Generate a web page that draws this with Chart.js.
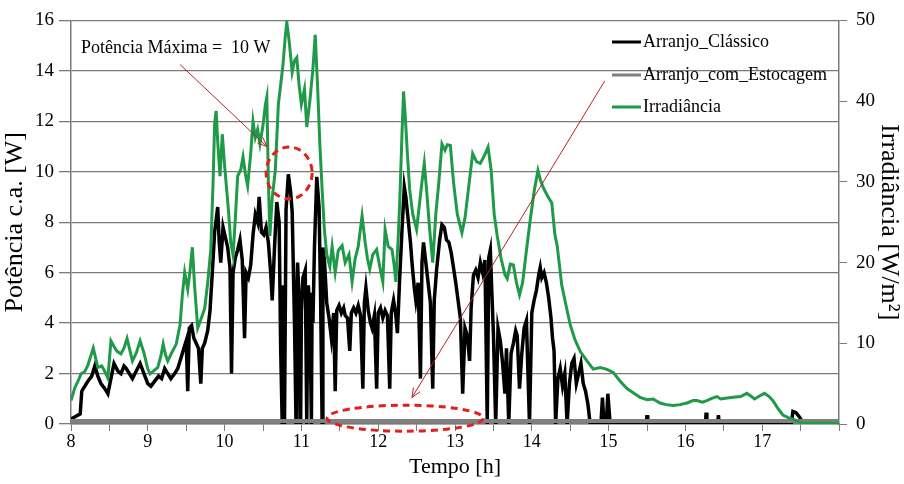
<!DOCTYPE html>
<html>
<head>
<meta charset="utf-8">
<script src="https://cdn.jsdelivr.net/npm/chart.js@4"></script>
<style>
body { margin: 0; background: #fff; }
</style>
</head>
<body>
<canvas id="potencia" width="904" height="484"></canvas>
<script>
// Arranjo_Clássico, potência c.a. [W]
const classicoHoras = [8.00, 8.06, 8.12, 8.14, 8.18, 8.22, 8.27, 8.31, 8.35, 8.39, 8.44, 8.48, 8.52, 8.56, 8.61, 8.65, 8.69, 8.72, 8.76, 8.80, 8.85, 8.90, 8.95, 9.00, 9.04, 9.09, 9.14, 9.18, 9.22, 9.26, 9.30, 9.35, 9.39, 9.43, 9.46, 9.50, 9.52, 9.54, 9.57, 9.60, 9.63, 9.66, 9.69, 9.71, 9.74, 9.78, 9.81, 9.84, 9.87, 9.91, 9.93, 9.95, 9.98, 10.01, 10.04, 10.07, 10.09, 10.11, 10.14, 10.17, 10.20, 10.23, 10.26, 10.28, 10.31, 10.34, 10.37, 10.40, 10.43, 10.45, 10.48, 10.51, 10.54, 10.57, 10.60, 10.62, 10.65, 10.68, 10.71, 10.73, 10.75, 10.76, 10.77, 10.78, 10.80, 10.83, 10.86, 10.88, 10.91, 10.93, 10.94, 10.95, 10.97, 10.99, 11.00, 11.02, 11.05, 11.07, 11.08, 11.09, 11.11, 11.13, 11.14, 11.15, 11.17, 11.20, 11.23, 11.25, 11.27, 11.28, 11.30, 11.33, 11.36, 11.39, 11.42, 11.44, 11.46, 11.49, 11.52, 11.55, 11.57, 11.60, 11.63, 11.65, 11.68, 11.71, 11.74, 11.77, 11.80, 11.82, 11.84, 11.87, 11.90, 11.92, 11.95, 11.98, 12.00, 12.03, 12.06, 12.09, 12.12, 12.15, 12.17, 12.20, 12.23, 12.25, 12.28, 12.31, 12.34, 12.36, 12.39, 12.42, 12.44, 12.47, 12.49, 12.52, 12.55, 12.57, 12.59, 12.62, 12.65, 12.68, 12.71, 12.73, 12.76, 12.80, 12.83, 12.86, 12.89, 12.92, 12.95, 12.98, 13.01, 13.04, 13.07, 13.10, 13.13, 13.16, 13.19, 13.21, 13.24, 13.27, 13.30, 13.33, 13.36, 13.39, 13.42, 13.44, 13.46, 13.48, 13.50, 13.53, 13.56, 13.59, 13.62, 13.65, 13.67, 13.70, 13.73, 13.76, 13.79, 13.81, 13.84, 13.87, 13.90, 13.93, 13.95, 13.97, 14.00, 14.03, 14.06, 14.09, 14.11, 14.13, 14.16, 14.19, 14.22, 14.25, 14.27, 14.29, 14.31, 14.34, 14.37, 14.40, 14.43, 14.46, 14.49, 14.52, 14.55, 14.58, 14.61, 14.64, 14.67, 14.70, 14.73, 14.76, 14.90, 14.92, 14.94, 14.97, 14.99, 15.02, 15.49, 15.50, 15.51, 16.26, 16.27, 16.28, 16.42, 16.43, 16.44, 17.38, 17.40, 17.44, 17.48, 17.52, 17.55, 18.00]
const classicoValores = [0.2, 0.3, 0.4, 1.3, 1.5, 1.7, 1.9, 2.3, 1.9, 1.6, 1.4, 1.2, 1.8, 2.4, 2.1, 2.0, 2.3, 2.2, 2.0, 1.8, 2.1, 2.4, 2.0, 1.6, 1.5, 1.7, 1.9, 1.8, 2.2, 2.0, 1.8, 2.0, 2.2, 2.6, 2.9, 3.3, 1.3, 3.8, 3.9, 3.4, 3.2, 3.0, 1.6, 3.0, 3.2, 3.7, 4.5, 6.0, 7.6, 8.6, 7.2, 6.4, 7.8, 7.4, 7.0, 6.2, 2.0, 6.0, 6.6, 6.9, 7.3, 6.5, 3.4, 6.0, 5.8, 6.3, 7.5, 8.3, 8.0, 9.0, 7.6, 7.5, 7.8, 7.2, 6.0, 4.9, 7.0, 8.8, 8.0, 3.0, 0.0, 5.5, 4.0, 0.0, 8.5, 9.9, 9.2, 8.4, 4.0, 0.0, 5.0, 6.4, 5.0, 0.0, 4.5, 5.8, 6.1, 0.0, 3.5, 5.5, 4.5, 0.0, 5.2, 4.0, 7.0, 9.8, 8.6, 5.0, 0.0, 7.0, 6.5, 4.8, 4.2, 3.4, 4.4, 1.3, 4.5, 4.7, 4.4, 4.6, 4.3, 4.2, 2.9, 4.4, 4.6, 4.4, 4.7, 4.3, 1.4, 4.8, 5.4, 4.5, 4.0, 3.8, 4.3, 1.4, 4.4, 4.6, 4.2, 4.5, 4.3, 1.4, 4.4, 4.9, 4.3, 3.6, 5.8, 7.7, 9.4, 9.0, 8.1, 7.2, 6.4, 5.4, 4.9, 5.6, 1.8, 6.4, 7.2, 6.4, 5.6, 4.8, 1.4, 4.9, 6.1, 7.3, 7.9, 7.8, 7.3, 7.2, 6.8, 6.2, 5.6, 4.9, 4.2, 1.2, 3.8, 3.5, 2.5, 4.6, 5.9, 6.1, 5.8, 6.4, 6.0, 6.5, 0.0, 6.6, 6.9, 5.2, 3.6, 0.0, 3.8, 3.3, 2.4, 1.2, 3.0, 0.0, 2.8, 3.2, 3.7, 3.5, 1.4, 2.8, 3.8, 4.1, 2.0, 0.0, 4.4, 4.9, 5.3, 5.9, 6.2, 5.8, 6.0, 5.6, 5.0, 4.2, 3.4, 2.9, 0.0, 1.8, 2.2, 1.5, 2.0, 0.0, 1.6, 2.4, 2.6, 1.6, 2.0, 2.4, 1.6, 1.3, 0.8, 0.0, 0.0, 1.05, 0.0, 0.0, 1.2, 0.0, 0.0, 0.35, 0.0, 0.0, 0.45, 0.0, 0.0, 0.35, 0.0, 0.0, 0.5, 0.45, 0.3, 0.1, 0.0, 0.0]

// Arranjo_com_Estocagem, potência c.a. [W]
const estocagemHoras = [8, 18]
const estocagemValores = [0.12, 0.12]

// Irradiância [W/m²]
const irradHoras = [8.00, 8.05, 8.10, 8.13, 8.18, 8.22, 8.26, 8.29, 8.32, 8.35, 8.40, 8.44, 8.48, 8.52, 8.56, 8.60, 8.65, 8.69, 8.73, 8.77, 8.80, 8.85, 8.90, 8.95, 9.00, 9.03, 9.08, 9.13, 9.17, 9.20, 9.23, 9.26, 9.31, 9.37, 9.42, 9.45, 9.48, 9.52, 9.55, 9.58, 9.61, 9.65, 9.70, 9.74, 9.78, 9.82, 9.85, 9.87, 9.89, 9.91, 9.94, 9.97, 10.00, 10.05, 10.08, 10.11, 10.14, 10.17, 10.21, 10.24, 10.27, 10.30, 10.34, 10.37, 10.40, 10.43, 10.46, 10.50, 10.53, 10.55, 10.57, 10.59, 10.62, 10.66, 10.70, 10.73, 10.76, 10.79, 10.81, 10.84, 10.88, 10.91, 10.94, 10.97, 11.00, 11.04, 11.07, 11.11, 11.15, 11.18, 11.21, 11.24, 11.27, 11.30, 11.33, 11.37, 11.40, 11.44, 11.48, 11.53, 11.57, 11.62, 11.66, 11.70, 11.74, 11.79, 11.83, 11.86, 11.89, 11.93, 11.98, 12.02, 12.06, 12.09, 12.13, 12.18, 12.21, 12.23, 12.26, 12.28, 12.31, 12.33, 12.35, 12.38, 12.41, 12.45, 12.50, 12.54, 12.57, 12.60, 12.63, 12.67, 12.71, 12.75, 12.79, 12.83, 12.87, 12.90, 12.94, 12.98, 13.03, 13.09, 13.13, 13.18, 13.23, 13.28, 13.33, 13.38, 13.43, 13.47, 13.51, 13.55, 13.60, 13.65, 13.68, 13.72, 13.76, 13.80, 13.84, 13.88, 13.93, 13.98, 14.03, 14.08, 14.11, 14.14, 14.17, 14.22, 14.26, 14.30, 14.33, 14.39, 14.45, 14.50, 14.56, 14.63, 14.72, 14.80, 14.89, 14.97, 15.06, 15.15, 15.24, 15.33, 15.41, 15.50, 15.58, 15.67, 15.75, 15.84, 15.93, 16.02, 16.10, 16.15, 16.22, 16.28, 16.35, 16.41, 16.46, 16.52, 16.62, 16.72, 16.80, 16.86, 16.90, 16.97, 17.03, 17.09, 17.14, 17.20, 17.27, 17.34, 17.40, 17.47, 17.53, 18.00]
const irradValores = [2.9, 4.5, 5.5, 6.2, 6.5, 7.3, 8.5, 9.4, 8.2, 7.0, 7.2, 6.5, 5.7, 10.3, 9.6, 9.0, 8.7, 9.4, 10.6, 9.0, 7.8, 8.8, 10.3, 8.8, 6.8, 6.2, 6.6, 7.0, 8.4, 9.9, 8.6, 7.8, 8.8, 9.9, 12.3, 16.0, 18.8, 16.7, 19.0, 21.9, 17.0, 11.9, 13.2, 14.3, 17.5, 21.6, 30.0, 37.2, 38.8, 35.0, 30.7, 35.9, 32.0, 26.5, 22.5, 20.9, 25.5, 30.7, 31.5, 33.1, 31.0, 29.5, 33.5, 37.5, 35.5, 36.5, 34.7, 37.0, 39.5, 40.5, 30.0, 23.3, 28.0, 31.4, 39.6, 42.0, 44.5, 48.0, 49.8, 47.5, 43.6, 45.0, 45.4, 42.0, 39.6, 41.5, 36.8, 40.0, 44.0, 48.2, 42.0, 34.7, 29.0, 24.0, 21.0, 19.5, 22.0, 18.8, 21.5, 22.1, 20.0, 21.0, 17.6, 20.5, 22.0, 25.8, 22.5, 20.5, 19.2, 21.0, 21.6, 19.5, 17.6, 24.1, 22.0, 21.6, 19.5, 17.6, 23.0, 27.4, 36.0, 41.2, 38.5, 33.5, 29.0, 26.0, 24.1, 27.5, 30.0, 32.3, 29.0, 24.1, 20.0, 26.0, 30.0, 34.7, 33.9, 34.6, 34.5, 30.0, 26.0, 23.7, 25.5, 29.5, 33.5, 32.5, 32.3, 33.2, 34.3, 31.5, 26.0, 23.3, 20.5, 18.5, 18.0, 19.8, 19.7, 17.5, 16.0, 17.5, 21.5, 25.3, 28.8, 31.4, 30.3, 29.5, 28.9, 28.0, 27.4, 23.5, 22.1, 17.2, 14.5, 12.3, 10.5, 9.0, 7.8, 6.8, 7.0, 6.8, 6.4, 5.3, 4.4, 3.8, 3.3, 3.0, 3.1, 2.6, 2.4, 2.3, 2.4, 2.6, 2.9, 2.9, 2.7, 2.9, 3.2, 3.4, 3.1, 3.2, 3.3, 3.4, 3.8, 3.4, 3.1, 3.5, 3.8, 3.4, 2.9, 2.0, 1.1, 0.8, 0.6, 0.3, 0.1, 0.1]

const horaTicks = [8, 9, 10, 11, 12, 13, 14, 15, 16, 17]

const pontos = (horas, valores) => horas.map((h, i) => ({ x: h, y: valores[i] }))

Chart.defaults.font.family = "'Liberation Serif', 'Times New Roman', serif"
Chart.defaults.color = '#000'

const cinzaGrade = '#7a7a7a'
const vermelho = '#e0201c'

// anotações em coordenadas de dados (h, W)
const anotacao = {
    texto: 'Potência Máxima =  10 W',
    textoPos: [8.13, 14.9],
    seta1: [[9.42, 14.25], [10.55, 11.0]],
    circulo: [10.84, 9.95],
    seta2: [[14.95, 13.6], [12.44, 1.05]],
    elipse: [12.35, 0.23]
}

const desenharSeta = (ctx, x1, y1, x2, y2) => {
    const ang = Math.atan2(y2 - y1, x2 - x1)
    ctx.beginPath()
    ctx.moveTo(x1, y1)
    ctx.lineTo(x2, y2)
    ctx.moveTo(x2 - 10 * Math.cos(ang - 0.4), y2 - 10 * Math.sin(ang - 0.4))
    ctx.lineTo(x2, y2)
    ctx.lineTo(x2 - 10 * Math.cos(ang + 0.4), y2 - 10 * Math.sin(ang + 0.4))
    ctx.stroke()
}

const extras = {
    id: 'extras',
    afterDatasetsDraw(chart) {
        const ctx = chart.ctx
        const sx = chart.scales.x
        const sy = chart.scales.y
        const px = v => sx.getPixelForValue(v)
        const py = v => sy.getPixelForValue(v)
        ctx.save()

        ctx.fillStyle = '#000'
        ctx.font = "18px 'Liberation Serif', serif"
        ctx.textBaseline = 'middle'
        ctx.textAlign = 'left'
        ctx.fillText(anotacao.texto, px(anotacao.textoPos[0]), py(anotacao.textoPos[1]))

        ctx.strokeStyle = '#b3262a'
        ctx.lineWidth = 1
        desenharSeta(ctx, px(anotacao.seta1[0][0]), py(anotacao.seta1[0][1]), px(anotacao.seta1[1][0]), py(anotacao.seta1[1][1]))
        desenharSeta(ctx, px(anotacao.seta2[0][0]), py(anotacao.seta2[0][1]), px(anotacao.seta2[1][0]), py(anotacao.seta2[1][1]))

        ctx.strokeStyle = vermelho
        ctx.lineWidth = 3
        ctx.setLineDash([7, 5])
        ctx.beginPath()
        ctx.ellipse(px(anotacao.circulo[0]), py(anotacao.circulo[1]), 23, 26, 0, 0, Math.PI * 2)
        ctx.stroke()
        ctx.beginPath()
        ctx.ellipse(px(anotacao.elipse[0]), py(anotacao.elipse[1]), 78, 13, 0, 0, Math.PI * 2)
        ctx.stroke()
        ctx.setLineDash([])

        // legenda
        const lx = 612
        const linhasY = [42, 75, 107]
        chart.data.datasets.forEach((ds, i) => {
            ctx.strokeStyle = ds.borderColor
            ctx.lineWidth = 3
            ctx.beginPath()
            ctx.moveTo(lx, linhasY[i])
            ctx.lineTo(lx + 29, linhasY[i])
            ctx.stroke()
            ctx.fillStyle = '#000'
            ctx.fillText(ds.label, lx + 31, linhasY[i])
        })
        ctx.restore()
    }
}

const canvas = document.getElementById('potencia')

let potenciaChart = new Chart(canvas, {
    type: 'line',
    data: {
        datasets: [{
            label: 'Arranjo_Clássico',
            data: pontos(classicoHoras, classicoValores),
            borderColor: '#000000',
            borderWidth: 3.5,
            pointRadius: 0,
            yAxisID: 'y',
            order: 3
        }, {
            label: 'Arranjo_com_Estocagem',
            data: pontos(estocagemHoras, estocagemValores),
            borderColor: '#808080',
            borderWidth: 4,
            pointRadius: 0,
            yAxisID: 'y',
            order: 2
        }, {
            label: 'Irradiância',
            data: pontos(irradHoras, irradValores),
            borderColor: '#1f9a48',
            borderWidth: 3,
            pointRadius: 0,
            yAxisID: 'y1',
            order: 1
        }]
    },
    options: {
        responsive: false,
        animation: false,
        layout: { padding: { top: 15 } },
        plugins: {
            legend: { display: false },
            tooltip: { enabled: false }
        },
        scales: {
            x: {
                type: 'linear',
                min: 8,
                max: 18,
                afterFit: s => { s.height = 60 },
                ticks: {
                    stepSize: 0.5,
                    autoSkip: false,
                    maxRotation: 0,
                    padding: 0,
                    font: { size: 18 },
                    callback: v => horaTicks.includes(v) ? String(v) : ''
                },
                grid: { drawOnChartArea: false, color: cinzaGrade, tickLength: 7 },
                border: { color: cinzaGrade, width: 1.5 },
                title: { display: true, text: 'Tempo [h]', font: { size: 22 }, padding: { top: 2 } }
            },
            y: {
                position: 'left',
                min: 0,
                max: 16,
                afterFit: s => { s.width = 71 },
                ticks: { stepSize: 2, padding: 5, font: { size: 19 } },
                grid: { color: cinzaGrade, lineWidth: 1.3, tickLength: 12 },
                border: { color: cinzaGrade, width: 1.5 },
                title: { display: true, text: 'Potência c.a. [W]', font: { size: 26 }, padding: 0 }
            },
            y1: {
                position: 'right',
                min: 0,
                max: 50,
                afterFit: s => { s.width = 65 },
                ticks: { stepSize: 10, padding: 9, font: { size: 19 } },
                grid: { drawOnChartArea: false, color: cinzaGrade, tickLength: 8 },
                border: { color: cinzaGrade, width: 1.5 },
                title: { display: true, text: 'Irradiância [W/m²]', font: { size: 26 }, padding: 0 }
            }
        }
    },
    plugins: [extras]
})
</script>
</body>
</html>
